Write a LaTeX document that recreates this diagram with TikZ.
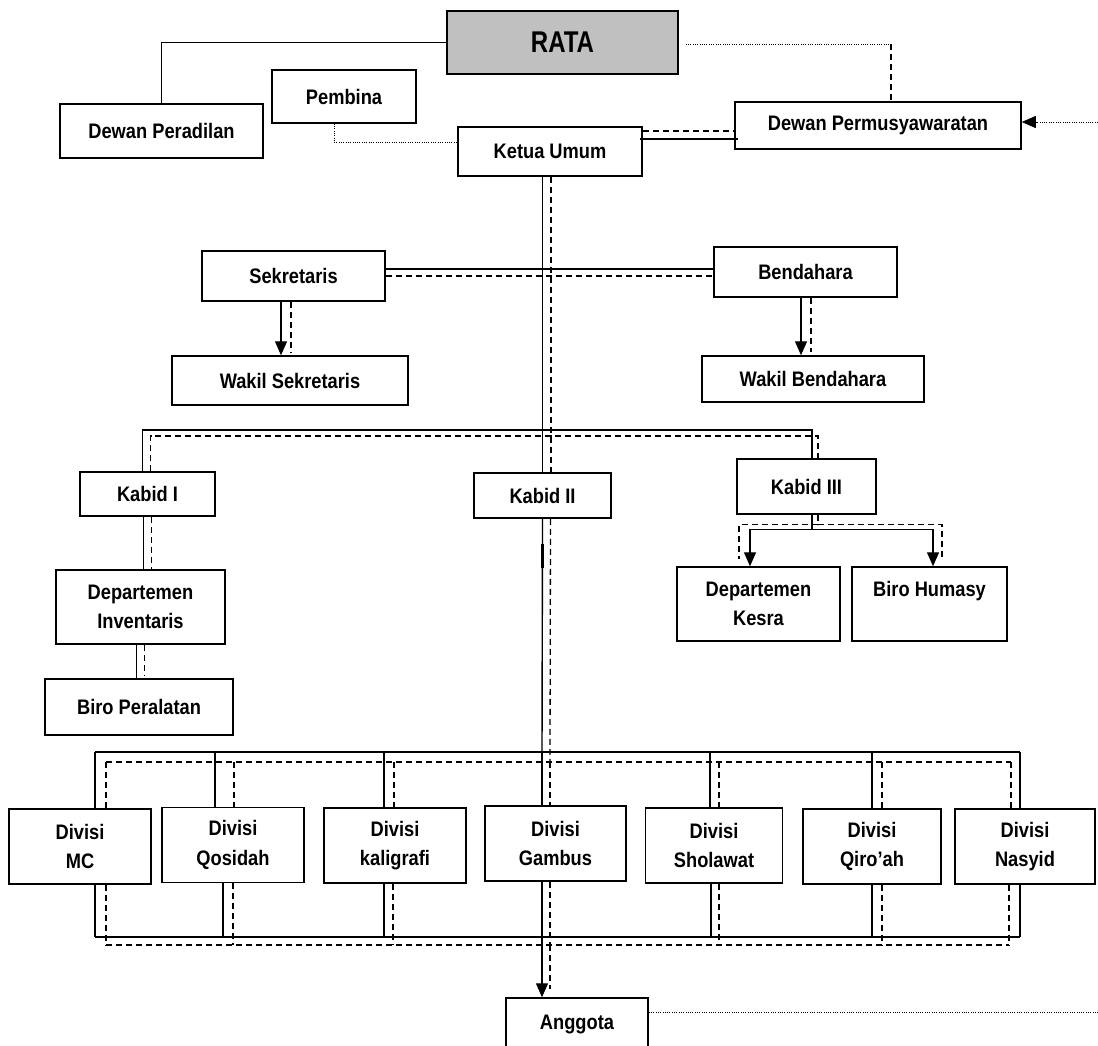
\documentclass[tikz,border=0pt]{standalone}
\usepackage{fontspec}
\setmainfont{Liberation Sans}[FakeStretch=0.87]
\newfontfamily\ratafont{Liberation Sans}[FakeStretch=0.8]
\usetikzlibrary{arrows.meta}
\definecolor{aburata}{HTML}{C0C0C0}
\begin{document}
\begin{tikzpicture}[x=1pt,y=-1pt,
	kotak/.style={draw, line width=1.5pt, fill=white, align=center, inner sep=0pt, font=\bfseries\fontsize{21}{29.5}\selectfont},
	garis/.style={line width=1.4pt},
	ganda/.style={line width=1.8pt},
	putus/.style={line width=1.3pt, dash pattern=on 6pt off 4pt},
	titik/.style={line width=0.8pt, dash pattern=on 1pt off 1.3pt},
	panah/.style={garis, -{Triangle[length=14pt,width=12pt]}}]
			\useasboundingbox (0,0) rectangle (1098,1045);
			
			\node[kotak, fill=aburata, minimum width=231pt, minimum height=63pt, font=\ratafont\bfseries\fontsize{30}{32}\selectfont] (rata) at (562.5,42.5) {RATA};
			\node[kotak, minimum width=203pt, minimum height=54pt] (peradilan) at (161.5,131) {Dewan Peradilan};
			\node[kotak, minimum width=144pt, minimum height=53pt] (pembina) at (344,96.5) {Pembina};
			\node[kotak, minimum width=184pt, minimum height=49pt] (ketua) at (550,151.5) {Ketua Umum};
			\node[kotak, minimum width=286pt, minimum height=47pt] (musyawarah) at (878,125.5) {Dewan Permusyawaratan};
			\node[kotak, minimum width=183pt, minimum height=50pt] (sekretaris) at (293.5,276) {Sekretaris};
			\node[kotak, minimum width=183pt, minimum height=50pt] (bendahara) at (805.5,272) {Bendahara};
			\node[kotak, minimum width=236pt, minimum height=49pt] (wakilsek) at (290,380.5) {Wakil Sekretaris};
			\node[kotak, minimum width=222pt, minimum height=46pt] (wakilbend) at (813,379) {Wakil Bendahara};
			\node[kotak, minimum width=135pt, minimum height=44pt] (kabid1) at (147.5,494) {Kabid I};
			\node[kotak, minimum width=137pt, minimum height=45pt] (kabid2) at (542.5,495.5) {Kabid II};
			\node[kotak, minimum width=139pt, minimum height=55pt] (kabid3) at (806.5,486.5) {Kabid III};
			\node[kotak, minimum width=169pt, minimum height=74pt] (inventaris) at (140.5,607) {Departemen\\Inventaris};
			\node[kotak, minimum width=188pt, minimum height=56pt] (peralatan) at (139,707) {Biro Peralatan};
			\node[kotak, minimum width=163pt, minimum height=74pt] (kesra) at (758.5,604) {Departemen\\Kesra};
			\node[kotak, minimum width=155pt, minimum height=74pt] (humasy) at (929.5,604) {Biro Humasy\\~};
			\node[kotak, minimum width=142pt, minimum height=52pt] (anggota) at (577,1024) {Anggota};
			
			\draw[garis] (rata.west) -| (peradilan.north);
			\coordinate (sudut) at ([xshift=13pt]musyawarah.north |- rata.east);
			\draw[titik] ([xshift=7pt,yshift=-1.5pt]rata.east) -- ([yshift=-1.5pt]sudut);
			\draw[putus] ([yshift=-1.5pt]sudut) -- ([xshift=13pt]musyawarah.north);
			\coordinate (masuk) at (1098,122);
			\draw[titik, -{Triangle[length=14pt,width=12pt]}] (masuk) -- ([yshift=3.5pt]musyawarah.east);
			\draw[titik] ([xshift=-10pt]pembina.south) |- ([yshift=9.5pt]ketua.west);
			\draw[putus] ([yshift=20.5pt]ketua.east) -- ([yshift=20.5pt]ketua.east -| musyawarah.west);
			\draw[ganda] ([yshift=12.5pt,xshift=-3pt]ketua.east) -- ([yshift=12.5pt,xshift=4pt]ketua.east -| musyawarah.west);
			
			\draw[ganda] (kabid2.north |- ketua.south) -- (kabid2.north);
			\draw[putus] ([xshift=8.5pt]kabid2.north |- ketua.south) -- ([xshift=8.5pt]kabid2.north);
			\draw[ganda] ([yshift=7pt]sekretaris.east) -- ([yshift=7pt]sekretaris.east -| bendahara.west);
			\draw[putus] (sekretaris.east) -- (sekretaris.east -| bendahara.west);
			\draw[panah] ([xshift=-12.5pt]sekretaris.south) -- ([xshift=-12.5pt]sekretaris.south |- wakilsek.north);
			\draw[putus] ([xshift=-2.5pt]sekretaris.south) -- ([xshift=-2.5pt,yshift=3pt]sekretaris.south |- wakilsek.north);
			\draw[panah] ([xshift=-4.5pt]bendahara.south) -- ([xshift=-4.5pt]bendahara.south |- wakilbend.north);
			\draw[putus] ([xshift=5.5pt]bendahara.south) -- ([xshift=5.5pt,yshift=3pt]bendahara.south |- wakilbend.north);
			
			\coordinate (barkabid) at (543,430);
			\coordinate (barkabidd) at (551,436);
			\draw[garis] ([xshift=-5pt]kabid1.north) |- (barkabid) -| ([xshift=5.5pt]kabid3.north);
			\draw[putus] ([xshift=3pt]kabid1.north) |- (barkabidd) -| ([xshift=11.5pt]kabid3.north);
			\draw[garis] ([xshift=-4pt]kabid1.south) -- ([xshift=-4pt]kabid1.south |- inventaris.north);
			\draw[putus] ([xshift=4pt]kabid1.south) -- ([xshift=4pt]kabid1.south |- inventaris.north);
			\draw[garis] ([xshift=-4pt]inventaris.south) -- ([xshift=-4pt]inventaris.south |- peralatan.north);
			\draw[putus] ([xshift=4pt]inventaris.south) -- ([xshift=4pt,yshift=3pt]inventaris.south |- peralatan.north);
			
			\draw[garis] ([xshift=5.5pt]kabid3.south) -- ++(0,15) coordinate (cabang3);
			\draw[panah] (cabang3) -| ([xshift=-8.5pt]kesra.north);
			\draw[panah] (cabang3) -| ([xshift=3.5pt]humasy.north);
			\draw[putus] ([xshift=11.5pt]kabid3.south) -- ++(0,10) coordinate (cabangd3);
			\draw[putus] (cabangd3) -| ([xshift=-19.5pt,yshift=7pt]kesra.north);
			\draw[putus] (cabangd3) -| ([xshift=12.5pt,yshift=7pt]humasy.north);
			
			\foreach \teks/\cx/\cy/\w/\sa/\da/\sb/\db [count=\i] in {MC/80/846.5/142/95/106/95/106, Qosidah/233/845/142/215/234/223/233, kaligrafi/395/845.5/142/384/394/384/393, Gambus/555.5/843.5/141/542/550/542/550, Sholawat/714/845.5/137/710/719/711/719, Qiro’ah/872/846.5/138/872/882/872/882, Nasyid/1025/846.5/140/1020/1011/1020/1009}
			{
				\node[kotak, minimum width=\w pt, minimum height=75pt] (d\i) at (\cx,\cy) {Divisi\\\teks};
				\coordinate (atas\i) at (\sa,752);
				\coordinate (atasd\i) at (\da,762);
				\coordinate (bawah\i) at (\sb,937);
				\coordinate (bawahd\i) at (\db,945);
				\draw[garis] (atas\i) -- (atas\i |- d\i.north);
				\draw[putus] (atasd\i) -- (atasd\i |- d\i.north);
				\draw[garis] (bawah\i |- d\i.south) -- (bawah\i);
				\draw[putus] (bawahd\i |- d\i.south) -- (bawahd\i);
			}
			\draw[garis] (atas1) -- (atas7);
			\draw[putus] (atasd1) -- (atasd7);
			\draw[garis] (bawah1) -- (bawah7);
			\draw[putus] (bawahd1) -- (bawahd7);
			
			\draw[garis] (kabid2.south) -- (atas4);
			\draw[line width=2.4pt] ([yshift=-25pt]kabid2.south) -- ++(0,24);
			\draw[putus] ([xshift=8pt]kabid2.south) -- (atasd4);
			\draw[panah] (bawah4) -- (bawah4 |- anggota.north);
			\draw[putus] (bawahd4) -- ([yshift=8pt]bawahd4 |- anggota.north);
			\draw[titik] ([yshift=12pt]anggota.east) -- ([yshift=12pt]anggota.east -| masuk);
			\end{tikzpicture}
\end{document}
